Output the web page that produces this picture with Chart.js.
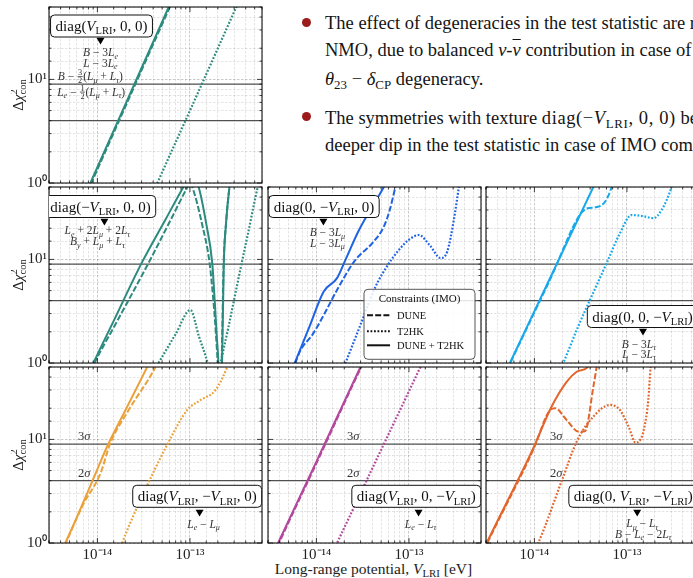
<!DOCTYPE html>
<html>
<head>
<meta charset="utf-8">
<title>LRI texture constraints</title>
<script src="https://cdn.jsdelivr.net/npm/chart.js@4.4.1/dist/chart.umd.min.js"></script>
<style>
  html, body { margin: 0; padding: 0; background: #fff; }
  #page { position: relative; width: 693px; height: 578px; overflow: hidden; }
  #page canvas { position: absolute; }
  .txt { position: absolute; white-space: nowrap; font-family: "Liberation Serif", serif; color: #141414; line-height: 1; }
  .txt sub { font-size: 0.7em; vertical-align: -0.28em; line-height: 0; }
  .bul { font-size: 18.5px; left: 325px; }
  .math { letter-spacing: 0.6px; }
  .bar { text-decoration: overline; }
  .dot { position: absolute; width: 9px; height: 9px; border-radius: 50%; background: #9c1b1b; left: 302px; }
  .xlab { font-size: 15.5px; left: 0; width: 747px; text-align: center; top: 561px; color: #222; }
</style>
</head>
<body>
<div id="page">
  <span class="dot" style="top:18px"></span>
  <div class="txt bul" style="top:14px">The effect of degeneracies in the test statistic are reduced in</div>
  <div class="txt bul" style="top:41px">NMO, due to balanced <i>ν</i>-<i class="bar">ν</i> contribution in case of</div>
  <div class="txt bul" style="top:69.5px"><i>θ</i><sub>23</sub> − <i>δ</i><sub>CP</sub> degeneracy.</div>
  <span class="dot" style="top:112px"></span>
  <div class="txt bul" style="top:108.5px">The symmetries with texture <span class="math">diag(−<i>V</i><sub>LRI</sub>, 0, 0)</span> become</div>
  <div class="txt bul" style="top:136px">deeper dip in the test statistic in case of IMO compared</div>
  <div class="txt xlab">Long-range potential, <i>V</i><sub>LRI</sub> [eV]</div>
</div>
<script>
// axis ranges and thresholds
const X_MIN = 3e-15, X_MAX = 6e-13;
const Y_MIN = 1, Y_MAX = 50;
const X_TICK_EXPS = [-14, -13];
const Y_TICK_EXPS = [0, 1];
const SIGMA_LEVELS = [4, 9];
const SIGMA_NAMES = ['2*σ*', '3*σ*'];
const SERIES_NAMES = ['DUNE', 'T2HK', 'DUNE + T2HK'];

// [V_LRI (eV), Δχ²_con] readings per texture

// diag(V, 0, 0)
const eeDune = [[7.2e-15, 0.7], [8.6e-15, 1], [2.05e-14, 5.7], [6e-14, 49], [8.2e-14, 91]];
const eeT2hk = [[4e-14, 0.8], [4.45e-14, 1], [1e-13, 5], [3.1e-13, 48], [4e-13, 80]];
const eeBoth = [[7e-15, 0.69], [8.4e-15, 1], [2e-14, 5.7], [5.9e-14, 50], [8e-14, 91]];

// diag(-V, 0, 0)
const eeNegDune = [[7.2e-15, 0.6], [9.3e-15, 1], [1.6e-14, 2.45], [3.56e-14, 9.2], [6e-14, 22.8], [9.4e-14, 50], [1e-13, 55],
  [1.06e-13, 50], [1.35e-13, 22], [1.63e-13, 9.2], [1.79e-13, 4], [1.9e-13, 2], [1.99e-13, 1], [2.1e-13, 0.3],
  [2.2e-13, 1], [2.31e-13, 9], [2.45e-13, 22], [2.67e-13, 50], [2.9e-13, 80]];
const eeNegT2hk = [[4e-14, 0.82], [4.57e-14, 1], [7e-14, 1.9], [1.01e-13, 3.25], [1.25e-13, 1.8], [1.55e-13, 1],
  [1.75e-13, 0.6], [1.95e-13, 0.6], [2.15e-13, 1], [2.6e-13, 2.2], [3.3e-13, 6.2], [4.3e-13, 19], [5.4e-13, 50], [6.5e-13, 90]];
const eeNegBoth = [[7e-15, 0.6], [9.06e-15, 1], [1.5e-14, 2.55], [3e-14, 9.2], [5.5e-14, 24.7], [8.5e-14, 50], [1.03e-13, 66],
  [1.24e-13, 50], [1.5e-13, 22], [1.74e-13, 9.2], [1.85e-13, 4], [1.95e-13, 1.8], [2.03e-13, 1], [2.12e-13, 0.3],
  [2.22e-13, 1], [2.32e-13, 9], [2.45e-13, 22], [2.67e-13, 50], [2.9e-13, 80]];

// diag(0, -V, 0)
const mmNegDune = [[5e-15, 0.71], [5.9e-15, 1], [6.8e-15, 1.35], [9e-15, 1.86], [1.2e-14, 2.9], [1.67e-14, 5.07],
  [2.64e-14, 9.9], [4e-14, 14.3], [5.35e-14, 20.7], [6.2e-14, 30], [7.14e-14, 50], [8e-14, 72]];
const mmNegT2hk = [[1.8e-14, 0.74], [2.06e-14, 1], [3e-14, 2.35], [4.35e-14, 5.46], [6e-14, 9], [7.76e-14, 12.3],
  [1e-13, 15.5], [1.28e-13, 17.2], [1.7e-13, 13.5], [2.19e-13, 10.3], [2.59e-13, 11.9], [3.05e-13, 24], [3.46e-13, 50], [3.7e-13, 75]];
const mmNegBoth = [[5e-15, 0.71], [5.83e-15, 1], [8.5e-15, 2.3], [1.2e-14, 4.9], [1.67e-14, 6.6], [2.06e-14, 9.9],
  [2.87e-14, 19], [5.35e-14, 50], [6.5e-14, 70]];

// diag(0, 0, -V)
const ttNegDune = [[4.7e-15, 0.73], [5.5e-15, 1], [1.5e-14, 6.6], [3.1e-14, 27], [3.7e-14, 31], [4.7e-14, 32],
  [5.8e-14, 36], [6.84e-14, 50], [7.4e-14, 65]];
const ttNegT2hk = [[1.8e-14, 0.78], [2.05e-14, 1], [3e-14, 2.3], [3.98e-14, 4.06], [6.03e-14, 9.2], [8.4e-14, 17.9],
  [1.12e-13, 26.8], [1.5e-13, 26.1], [1.93e-13, 25], [2.37e-13, 30], [3.04e-13, 50], [3.3e-13, 65]];
const ttNegBoth = [[4.6e-15, 0.73], [5.44e-15, 1], [1.5e-14, 6.8], [4.33e-14, 50], [5.5e-14, 78]];

// diag(V, -V, 0)
const emuDune = [[4.1e-15, 0.8], [4.57e-15, 1], [6e-15, 1.75], [7.1e-15, 2.4], [1.08e-14, 4.7], [1.38e-14, 9.2],
  [2.2e-14, 19.5], [4.24e-14, 50], [5e-14, 70]];
const emuT2hk = [[1.7e-14, 0.8], [1.85e-14, 1], [2.92e-14, 2.6], [5.9e-14, 9.5], [9.33e-14, 19.2], [1.3e-13, 24],
  [1.89e-13, 30], [2.53e-13, 50], [2.8e-13, 65]];
const emuBoth = [[4e-15, 0.8], [4.5e-15, 1], [6.04e-15, 1.8], [9.93e-15, 5.07], [1.27e-14, 8.5], [2e-14, 19],
  [3.45e-14, 50], [4.2e-14, 71]];

// diag(V, 0, -V)
const etauDune = [[3.5e-15, 0.78], [3.95e-15, 1], [1.02e-14, 6.1], [3.05e-14, 50], [3.7e-14, 71]];
const etauT2hk = [[1.5e-14, 0.82], [1.67e-14, 1], [4e-14, 5.2], [1.33e-13, 50], [1.6e-13, 71]];
const etauBoth = [[3.4e-15, 0.78], [3.86e-15, 1], [1e-14, 6.1], [2.99e-14, 50], [3.6e-14, 71]];

// diag(0, V, -V)
const mutauDune = [[2.85e-15, 0.85], [3.1e-15, 1], [9.8e-15, 8.1], [1.46e-14, 19], [1.67e-14, 20], [2.23e-14, 15.4],
  [2.98e-14, 11.9], [3.52e-14, 12], [4.33e-14, 32], [4.7e-14, 50], [5e-14, 70]];
const mutauT2hk = [[1e-14, 0.85], [1.1e-14, 1], [2e-14, 4.1], [2.86e-14, 9.5], [4.33e-14, 16.6], [6.56e-14, 21.5],
  [8.4e-14, 19.2], [1.05e-13, 13], [1.24e-13, 9.3], [1.4e-13, 10], [1.5e-13, 11.8], [1.7e-13, 24], [1.8e-13, 50], [1.9e-13, 75]];
const mutauBoth = [[2.8e-15, 0.85], [3.05e-15, 1], [9.7e-15, 8.2], [1.53e-14, 20.7], [2.23e-14, 36], [2.86e-14, 45],
  [3.67e-14, 49], [4.3e-14, 60], [4.8e-14, 80]];

// benchmark potential marked with a triangle in each panel
const MARKER_V = [1.08e-14, 1.19e-14, 1.19e-14, 1.49e-13, 1.27e-13, 1.27e-13, 1.29e-13];
const PANEL_COLORS = ['#2c8a7e', '#2c8a7e', '#1f63e3', '#17a8ea', '#eba13a', '#b2479b', '#e2652b'];

const SERIF = 'Liberation Serif';
Chart.defaults.font.family = SERIF;
Chart.defaults.color = '#222';

const PANEL_W = 213, PANEL_H = 176;
const COL_X = [48.5, 267.5, 486];
const ROW_Y = [7, 187, 367];
const NOTE_SIZE = 11.5;

const panels = [
  { row: 0, col: 0, dune: eeDune, t2hk: eeT2hk, both: eeBoth,
    box: { t: 'diag(*V*_{LRI}, 0, 0)', cx: 52.5, cy: 19 }, tri: 34,
    notes: [{ t: '*B* − 3*L_{e}*', dx: 0, y: 49 }, { t: '*L* − 3*L_{e}*', dx: 0, y: 59.5 },
            { t: '*B* − [3/2](*L_{μ}* + *L_{τ}*)', x: 8.8, y: 73 },
            { t: '*L_{e}* − [1/2](*L_{μ}* + *L_{τ}*)', x: 8.2, y: 88.5 }] },
  { row: 1, col: 0, dune: eeNegDune, t2hk: eeNegT2hk, both: eeNegBoth,
    box: { t: 'diag(−*V*_{LRI}, 0, 0)', cx: 51.5, cy: 19.5 }, tri: 35,
    notes: [{ t: '*L_{e}* + 2*L_{μ}* + 2*L_{τ}*', dx: -7, y: 47 }, { t: '*B_{y}* + *L_{μ}* + *L_{τ}*', dx: -7, y: 58 }] },
  { row: 1, col: 1, dune: mmNegDune, t2hk: mmNegT2hk, both: mmNegBoth,
    box: { t: 'diag(0, −*V*_{LRI}, 0)', cx: 56, cy: 19.5 }, tri: 35,
    notes: [{ t: '*B* − 3*L_{μ}*', dx: 4, y: 49 }, { t: '*L* − 3*L_{μ}*', dx: 4, y: 59.5 }],
    legend: { x: 96, y: 102.3, w: 111, h: 70 } },
  { row: 1, col: 2, dune: ttNegDune, t2hk: ttNegT2hk, both: ttNegBoth,
    box: { t: 'diag(0, 0, −*V*_{LRI})', cx: 156.5, cy: 129.5 }, tri: 145,
    notes: [{ t: '*B* − 3*L_{τ}*', dx: -4, y: 160.5 }, { t: '*L* − 3*L_{τ}*', dx: -4, y: 170.5 }] },
  { row: 2, col: 0, dune: emuDune, t2hk: emuT2hk, both: emuBoth,
    box: { t: 'diag(*V*_{LRI}, −*V*_{LRI}, 0)', cx: 148.2, cy: 129.3 }, tri: 146,
    notes: [{ t: '*L_{e}* − *L_{μ}*', dx: 4, y: 160.5 }], sigmaX: 29 },
  { row: 2, col: 1, dune: etauDune, t2hk: etauT2hk, both: etauBoth,
    box: { t: 'diag(*V*_{LRI}, 0, −*V*_{LRI})', cx: 148.3, cy: 129.3 }, tri: 146,
    notes: [{ t: '*L_{e}* − *L_{τ}*', dx: 2, y: 160.5 }], sigmaX: 79 },
  { row: 2, col: 2, dune: mutauDune, t2hk: mutauT2hk, both: mutauBoth,
    box: { t: 'diag(0, *V*_{LRI}, −*V*_{LRI})', cx: 147.3, cy: 129.3 }, tri: 146,
    notes: [{ t: '*L_{μ}* − *L_{τ}*', dx: 5, y: 160 }, { t: '*B* − *L_{e}* − 2*L_{τ}*', dx: 6, y: 170.5 }], sigmaX: 64 }
];

const SUP = { '-': '⁻', '0': '⁰', '1': '¹', '2': '²', '3': '³', '4': '⁴', '5': '⁵', '6': '⁶', '7': '⁷', '8': '⁸', '9': '⁹' };
function powerLabel(v, exps) {
  const e = Math.round(Math.log10(v));
  if (!exps.includes(e) || Math.abs(v / Math.pow(10, e) - 1) > 1e-6) return '';
  return '10' + String(e).split('').map(c => SUP[c]).join('');
}

// tiny markup: *..* italic, _{..} subscript, ^{..} superscript, [a/b] stacked fraction
function parseRich(s) {
  const out = [];
  let it = false, buf = '';
  const flush = () => { if (buf) out.push({ t: buf, it, lvl: 0 }); buf = ''; };
  for (let i = 0; i < s.length; i++) {
    const c = s[i];
    if (c === '*') { flush(); it = !it; }
    else if ((c === '_' || c === '^') && s[i + 1] === '{') {
      flush();
      const end = s.indexOf('}', i);
      out.push({ t: s.slice(i + 2, end), it, lvl: c === '_' ? -1 : 1 });
      i = end;
    } else if (c === '[') {
      flush();
      const end = s.indexOf(']', i);
      out.push({ frac: s.slice(i + 1, end).split('/') });
      i = end;
    } else buf += c;
  }
  flush();
  return out;
}

function drawRich(ctx, s, x, y, size, align) {
  const parts = parseRich(s);
  const fontOf = p => (p.it ? 'italic ' : '') + (p.lvl ? size * 0.7 : size) + 'px ' + SERIF;
  let w = 0;
  parts.forEach((p, i) => {
    if (p.frac) {
      ctx.font = (size * 0.72) + 'px ' + SERIF;
      p.w = Math.max(ctx.measureText(p.frac[0]).width, ctx.measureText(p.frac[1]).width) + 2;
    } else {
      ctx.font = fontOf(p);
      p.w = ctx.measureText(p.t).width;
    }
    const prev = parts[i - 1];
    if (p.lvl === -1 && prev && prev.lvl === 1) {   // stacked sup/sub
      p.stack = prev.w;
      p.adv = Math.max(0, p.w - prev.w);
    } else p.adv = p.w;
    w += p.adv;
  });
  let cx = align === 'center' ? x - w / 2 : align === 'right' ? x - w : x;
  ctx.textAlign = 'left';
  ctx.textBaseline = 'alphabetic';
  parts.forEach(p => {
    if (p.frac) {
      const fs = size * 0.72;
      ctx.font = fs + 'px ' + SERIF;
      const mid = cx + p.w / 2;
      ctx.fillText(p.frac[0], mid - ctx.measureText(p.frac[0]).width / 2, y - size * 0.42);
      ctx.fillText(p.frac[1], mid - ctx.measureText(p.frac[1]).width / 2, y + size * 0.3);
      ctx.fillRect(cx + 0.5, y - size * 0.33, p.w - 1, 0.7);
    } else {
      ctx.font = fontOf(p);
      const dy = p.lvl === -1 ? size * 0.22 : p.lvl === 1 ? -size * 0.4 : 0;
      const px = p.stack !== undefined ? cx - p.stack : cx;
      ctx.fillText(p.t, px, y + dy);
    }
    cx += p.adv;
  });
  return w;
}

function roundRect(ctx, x, y, w, h, r) {
  ctx.beginPath();
  ctx.moveTo(x + r, y);
  ctx.arcTo(x + w, y, x + w, y + h, r);
  ctx.arcTo(x + w, y + h, x, y + h, r);
  ctx.arcTo(x, y + h, x, y, r);
  ctx.arcTo(x, y, x + w, y, r);
  ctx.closePath();
}

function line(ctx, x1, y1, x2, y2) {
  ctx.beginPath(); ctx.moveTo(x1, y1); ctx.lineTo(x2, y2); ctx.stroke();
}

const DASHES = { 'DUNE': [6, 2.2], 'T2HK': [1.8, 1.7], 'DUNE + T2HK': [] };

function decorPlugin(p, idx) {
  return {
    id: 'decor',
    beforeDatasetsDraw(chart) {
      const { ctx, chartArea: a, scales: { y } } = chart;
      ctx.save();
      ctx.strokeStyle = '#505050';
      ctx.lineWidth = 1.1;
      SIGMA_LEVELS.forEach(lv => {
        const py = y.getPixelForValue(lv);
        line(ctx, a.left, py, a.right, py);
      });
      ctx.restore();
    },
    afterDraw(chart) {
      const { ctx, chartArea: a, scales: { x, y } } = chart;
      ctx.save();
      // inward ticks on all four sides
      ctx.strokeStyle = '#111';
      ctx.lineWidth = 0.8;
      x.ticks.forEach(t => {
        const px = x.getPixelForValue(t.value), len = t.major ? 5 : 2.5;
        line(ctx, px, a.bottom, px, a.bottom - len);
        line(ctx, px, a.top, px, a.top + len);
      });
      y.ticks.forEach(t => {
        const py = y.getPixelForValue(t.value), len = t.major ? 5 : 2.5;
        line(ctx, a.left, py, a.left + len, py);
        line(ctx, a.right, py, a.right - len, py);
      });
      ctx.lineWidth = 1.1;
      ctx.strokeRect(a.left, a.top, a.right - a.left, a.bottom - a.top);

      // clip panel decorations to the plot area
      ctx.save();
      ctx.beginPath();
      ctx.rect(a.left, a.top, a.right - a.left, a.bottom - a.top);
      ctx.clip();

      if (p.sigmaX !== undefined) {
        ctx.fillStyle = '#333';
        SIGMA_LEVELS.forEach((lv, i) => drawRich(ctx, SIGMA_NAMES[i], a.left + p.sigmaX, y.getPixelForValue(lv) - 4, 12.5, 'left'));
      }

      // texture label box
      const tw = (() => { ctx.save(); ctx.globalAlpha = 0; const w = drawRich(ctx, p.box.t, 0, 0, 15, 'left'); ctx.restore(); return w; })();
      const bw = tw + 10, bh = 22;
      const bx = a.left + p.box.cx - bw / 2, by = a.top + p.box.cy - bh / 2;
      roundRect(ctx, bx, by, bw, bh, 4);
      ctx.fillStyle = '#fff';
      ctx.fill();
      ctx.strokeStyle = '#111';
      ctx.lineWidth = 1;
      ctx.stroke();
      ctx.fillStyle = '#111';
      drawRich(ctx, p.box.t, a.left + p.box.cx, a.top + p.box.cy + 5, 15, 'center');

      // benchmark marker
      const tx = x.getPixelForValue(MARKER_V[idx]), ty = a.top + p.tri;
      ctx.beginPath();
      ctx.moveTo(tx - 4, ty - 3.2);
      ctx.lineTo(tx + 4, ty - 3.2);
      ctx.lineTo(tx, ty + 3.6);
      ctx.closePath();
      ctx.fillStyle = '#000';
      ctx.fill();

      ctx.fillStyle = '#333';
      p.notes.forEach(n => {
        if (n.x !== undefined) drawRich(ctx, n.t, a.left + n.x, a.top + n.y, NOTE_SIZE, 'left');
        else drawRich(ctx, n.t, tx + n.dx, a.top + n.y, NOTE_SIZE, 'center');
      });

      if (p.legend) {
        const lg = p.legend, lx = a.left + lg.x, ly = a.top + lg.y;
        roundRect(ctx, lx, ly, lg.w, lg.h, 4);
        ctx.fillStyle = 'rgba(255,255,255,0.85)';
        ctx.fill();
        ctx.strokeStyle = '#444';
        ctx.lineWidth = 0.9;
        ctx.stroke();
        ctx.fillStyle = '#111';
        drawRich(ctx, 'Constraints (IMO)', lx + lg.w / 2, ly + 13, 11, 'center');
        [26, 42, 56].forEach((dy, i) => {
          ctx.strokeStyle = '#111';
          ctx.lineWidth = 2;
          ctx.setLineDash(DASHES[SERIES_NAMES[i]]);
          line(ctx, lx + 3, ly + dy, lx + 26, ly + dy);
          ctx.setLineDash([]);
          drawRich(ctx, SERIES_NAMES[i], lx + 33, ly + dy + 3.5, 10.5, 'left');
        });
      }
      ctx.restore();

      // y-axis title on the left column
      if (p.col === 0) {
        ctx.fillStyle = '#222';
        ctx.translate(a.left - 26.5, (a.top + a.bottom) / 2);
        ctx.rotate(-Math.PI / 2);
        drawRich(ctx, 'Δ*χ*^{2}_{con}', 0, 0, 15, 'center');
      }
      ctx.restore();
    }
  };
}

const page = document.getElementById('page');

panels.forEach((p, idx) => {
  const cv = document.createElement('canvas');
  cv.width = 320;
  cv.height = 240;
  page.appendChild(cv);
  const color = PANEL_COLORS[idx];
  const series = [
    { name: 'DUNE + T2HK', data: p.both, width: 2 },
    { name: 'DUNE', data: p.dune, width: 2 },
    { name: 'T2HK', data: p.t2hk, width: 2.2 }
  ];
  const gridColor = ctx => (ctx.tick && ctx.tick.major) ? 'rgba(0,0,0,0.27)' : 'rgba(0,0,0,0.14)';
  const chart = new Chart(cv, {
    type: 'scatter',
    data: {
      datasets: series.map(s => ({
        label: s.name,
        data: s.data.map(([v, c]) => ({ x: v, y: c })),
        showLine: true,
        borderColor: color,
        backgroundColor: color,
        borderWidth: s.width,
        borderDash: DASHES[s.name],
        borderCapStyle: 'butt',
        pointRadius: 0,
        cubicInterpolationMode: 'monotone',
        clip: 0
      }))
    },
    options: {
      responsive: false,
      maintainAspectRatio: false,
      animation: false,
      events: [],
      layout: { padding: { left: p.col === 0 ? 14 : 0 } },
      plugins: { legend: { display: false }, tooltip: { enabled: false } },
      scales: {
        x: {
          type: 'logarithmic', min: X_MIN, max: X_MAX,
          grid: { color: gridColor, lineWidth: 0.8, drawTicks: false },
          border: { display: false, dash: [2.5, 1.5] },
          ticks: {
            autoSkip: false, maxRotation: 0, padding: 3, color: '#222',
            font: { family: SERIF, size: 15 },
            callback: v => p.row === 2 ? powerLabel(v, X_TICK_EXPS) : ''
          }
        },
        y: {
          type: 'logarithmic', min: Y_MIN, max: Y_MAX,
          grid: { color: gridColor, lineWidth: 0.8, drawTicks: false },
          border: { display: false, dash: [2.5, 1.5] },
          ticks: {
            autoSkip: false, padding: 2, color: '#222',
            font: { family: SERIF, size: 15 },
            callback: v => p.col === 0 ? powerLabel(v, Y_TICK_EXPS) : ''
          }
        }
      }
    },
    plugins: [decorPlugin(p, idx)]
  });

  // size the canvas so the plot area matches the panel grid, then place it
  const a = chart.chartArea;
  const ml = a.left, mt = a.top, mr = chart.width - a.right, mb = chart.height - a.bottom;
  chart.resize(PANEL_W + ml + mr, PANEL_H + mt + mb);
  chart.update('none');
  const b = chart.chartArea;
  cv.style.left = (COL_X[p.col] - b.left) + 'px';
  cv.style.top = (ROW_Y[p.row] - b.top) + 'px';
});
</script>
</body>
</html>
